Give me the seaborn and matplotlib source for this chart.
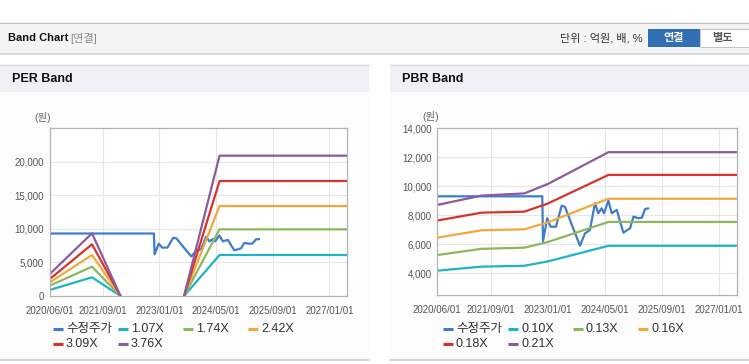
import matplotlib
matplotlib.use("Agg")
import matplotlib.pyplot as plt
from matplotlib.patches import Rectangle
from matplotlib.lines import Line2D
from matplotlib.ticker import FuncFormatter
import pandas as pd
import seaborn as sns

W, H = 749, 364

# 수정주가 (두 차트 공통)
price_dates = ['2020-06-01', '2022-11-15', '2022-11-21', '2022-12-27', '2023-01-25',
               '2023-03-11', '2023-04-29', '2023-05-27', '2023-07-09', '2023-10-02',
               '2023-11-14', '2023-12-26', '2024-02-07', '2024-03-06', '2024-04-04',
               '2024-04-24', '2024-05-31', '2024-06-29', '2024-08-11', '2024-09-08',
               '2024-10-06', '2024-12-02', '2024-12-31', '2025-02-11', '2025-03-12',
               '2025-04-09', '2025-05-07']
price_vals = [9300, 9300, 6200, 7780, 7200, 7200, 8650, 8580, 7660, 5890,
              6740, 6970, 8820, 8130, 8470, 8130, 9000, 8130, 8360, 7550,
              6790, 7090, 7900, 7780, 7820, 8420, 8470]

# PER 밴드
per_labels = ['1.07X', '1.74X', '2.42X', '3.09X', '3.76X']
per_dates = ['2020-06-01', '2021-06-01', '2022-02-01', '2023-08-01', '2024-06-01', '2027-06-01']
per_seg = [0, 0, 0, 1, 1, 1]
per_107 = [890, 2780, 0, 0, 6100, 6100]
per_174 = [1530, 4360, 0, 0, 9920, 9920]
per_242 = [1990, 6100, 0, 0, 13390, 13390]
per_309 = [2480, 7690, 0, 0, 17110, 17110]
per_376 = [3230, 9330, 0, 0, 20880, 20880]

# PBR 밴드
pbr_labels = ['0.10X', '0.13X', '0.16X', '0.18X', '0.21X']
pbr_dates = ['2020-06-01', '2021-06-15', '2022-06-15', '2023-01-01', '2024-06-01', '2027-06-01']
pbr_010 = [4160, 4440, 4500, 4800, 5880, 5880]
pbr_013 = [5240, 5670, 5750, 6140, 7530, 7530]
pbr_016 = [6440, 6950, 7020, 7500, 9130, 9130]
pbr_018 = [7620, 8170, 8240, 8800, 10780, 10780]
pbr_021 = [8700, 9350, 9500, 10150, 12350, 12350]

xtick_dates = ['2020-06-01', '2021-09-01', '2023-01-01', '2024-05-01', '2025-09-01', '2027-01-01']
xtick_labels = ['2020/06/01', '2021/09/01', '2023/01/01', '2024/05/01', '2025/09/01', '2027/01/01']

price_color = '#3d7dcc'
band_colors = ['#1db3c8', '#8fb65b', '#f1a93b', '#d6342b', '#8c5a9e']

sns.set_theme(style="whitegrid")
plt.rcParams['font.family'] = ['Liberation Sans', 'Noto Sans CJK KR', 'DejaVu Sans']

fig = plt.figure(figsize=(W / 100, H / 100), dpi=100)
fig.patch.set_facecolor('white')


def fx(x):
    return x / W


def fy(y):
    return 1 - y / H


def rect(x0, y0, x1, y1, fc, ec='none', lw=0, z=-5):
    fig.patches.append(Rectangle((fx(x0), fy(y1)), (x1 - x0) / W, (y1 - y0) / H,
                                 transform=fig.transFigure, fc=fc, ec=ec, lw=lw, zorder=z))


def hline(x0, x1, y, c, lw=0.8):
    fig.lines.append(Line2D([fx(x0), fx(x1)], [fy(y), fy(y)], transform=fig.transFigure,
                            color=c, lw=lw, zorder=-4))


# 상단 헤더
rect(0, 22, 749, 53, '#f4f4f4')
hline(0, 749, 22.5, '#c2c2c2')
hline(0, 749, 53.5, '#d2d2d2', lw=1.2)
fig.text(fx(8), fy(38), 'Band Chart', fontsize=8, fontweight='bold', color='#111111', va='center')
fig.text(fx(70), fy(38), '[연결]', fontsize=8, color='#8a8a8a', va='center')
fig.text(fx(643), fy(38), '단위 : 억원, 배, %', fontsize=8, color='#333333', va='center', ha='right')
rect(648, 29, 700, 47, '#3270b6', z=-3)
rect(700, 29, 752, 47, 'white', ec='#c6c6c6', lw=0.8, z=-3)
fig.text(fx(674), fy(38), '연결', fontsize=8, fontweight='bold', color='white', va='center', ha='center')
fig.text(fx(722), fy(38), '별도', fontsize=8, fontweight='bold', color='#555555', va='center', ha='center')

# 패널 배경
for x0, x1, title in [(0, 369, 'PER Band'), (390, 749, 'PBR Band')]:
    rect(x0, 64, x1, 360, '#fcfcfc')
    rect(x0, 64, x1, 92, '#eef2f6')
    hline(x0, x1, 64.5, '#dcdcdc')
    hline(x0, x1, 360, '#cccccc', lw=1.2)
    fig.text(fx(x0 + 12), fy(79), title, fontsize=9, fontweight='bold', color='#111111', va='center')

ax1 = fig.add_axes([fx(49.5), fy(296), (347 - 49.5) / W, (296 - 128) / H])
ax2 = fig.add_axes([fx(437), fy(295), (737 - 437) / W, (295 - 128.3) / H])

price_df = pd.DataFrame({'date': pd.to_datetime(price_dates), 'value': price_vals})

per_df = pd.concat([
    pd.DataFrame({'date': pd.to_datetime(per_dates), 'value': v, 'band': lab, 'seg': per_seg})
    for lab, v in zip(per_labels, [per_107, per_174, per_242, per_309, per_376])
])
pbr_df = pd.concat([
    pd.DataFrame({'date': pd.to_datetime(pbr_dates), 'value': v, 'band': lab})
    for lab, v in zip(pbr_labels, [pbr_010, pbr_013, pbr_016, pbr_018, pbr_021])
])

sns.lineplot(data=price_df, x='date', y='value', ax=ax1, color=price_color, lw=1.6)
sns.lineplot(data=per_df, x='date', y='value', hue='band', units='seg', estimator=None,
             palette=band_colors, ax=ax1, lw=1.6, legend=False)

sns.lineplot(data=price_df, x='date', y='value', ax=ax2, color=price_color, lw=1.6)
sns.lineplot(data=pbr_df, x='date', y='value', hue='band', palette=band_colors,
             ax=ax2, lw=1.6, legend=False)

fmt = FuncFormatter(lambda v, p: f'{int(v):,}')
for ax, yt, yl in [(ax1, [0, 5000, 10000, 15000, 20000], (0, 25000)),
                   (ax2, [4000, 6000, 8000, 10000, 12000, 14000], (2480, 14000))]:
    ax.set_facecolor('white')
    ax.set_xlim(pd.Timestamp('2020-06-01'), pd.Timestamp('2027-06-01'))
    ax.set_ylim(*yl)
    ax.set_yticks(yt)
    ax.yaxis.set_major_formatter(fmt)
    ax.set_xticks(pd.to_datetime(xtick_dates))
    ax.set_xticklabels(xtick_labels)
    ax.set_xlabel('')
    ax.set_ylabel('')
    ax.grid(True, color='#e6e6e6', lw=0.8)
    for s in ax.spines.values():
        s.set_color('#b4b4b4')
        s.set_linewidth(0.9)
    ax.tick_params(axis='x', labelsize=7, colors='#555555', length=3, pad=4, color='#b4b4b4')
    ax.tick_params(axis='y', labelsize=7, colors='#555555', length=0, pad=4)

fig.text(fx(34), fy(118), '(원)', fontsize=7.5, color='#666666', va='center')
fig.text(fx(422), fy(117), '(원)', fontsize=7.5, color='#666666', va='center')


def legend_item(x, y, color, label):
    fig.lines.append(Line2D([fx(x), fx(x + 10)], [fy(y), fy(y)], transform=fig.transFigure,
                            color=color, lw=2.2, solid_capstyle='butt'))
    fig.text(fx(x + 13), fy(y), label, fontsize=9, color='#333333', va='center')


for x0, labels in [(53, per_labels), (443, pbr_labels)]:
    names = ['수정주가'] + labels
    colors = [price_color] + band_colors
    for i, (n, c) in enumerate(zip(names, colors)):
        row, col = divmod(i, 4)
        legend_item(x0 + col * 65, 329 + row * 15, c, n)

fig.savefig('out.png', dpi=100)
